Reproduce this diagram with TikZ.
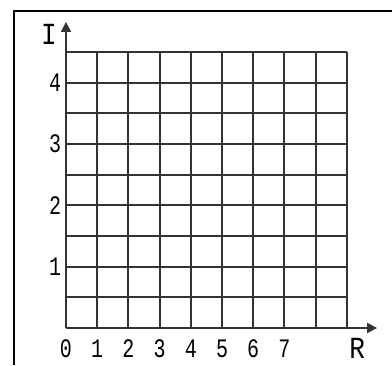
\documentclass[tikz,border=0pt]{standalone}
\usepackage{fontspec}
\setmainfont{Liberation Mono}
\usetikzlibrary{arrows.meta}

\begin{document}
\begin{tikzpicture}[
    x=23.4pt, y=23.0pt,
    cellgrid/.style={draw=black!80, line width=1.4pt},
    axis/.style={-{Triangle[length=7.5pt,width=7.5pt]}, line width=1.4pt, draw=black!80},
    frameline/.style={line width=2.2pt},
    num/.style={font=\fontsize{20}{20}\selectfont, inner sep=0pt, xscale=0.75},
    axlbl/.style={font=\fontsize{23}{23}\selectfont, inner sep=0pt, xscale=0.85}
]
\useasboundingbox (-49.5pt,-27.75pt) rectangle (244.5pt,246pt);

% frame of the box
\coordinate (framebl) at (-39pt,-27.75pt);
\coordinate (frametr) at (244.5pt,237.75pt);
\draw[frameline] (framebl) |- (frametr);

% cells
\draw[cellgrid, step=1] (0,0) grid (9,9);

% axes
\coordinate (origin) at (0,0);
\coordinate (Itip) at (0,9.98);
\coordinate (Rtip) at (9.97,0);
\draw[axis] (origin) -- (Itip);
\draw[axis] (origin) -- (Rtip);
\node[axlbl] (Ilbl) at (-0.55,9.56) {I};
\node[axlbl] (Rlbl) at (9.33,-0.68) {R};

% numbers
\foreach \k in {0,...,7}
    \node[num] (xnum\k) at (\k,-0.68) {\k};
\foreach \k in {1,...,4}
    \node[num] (ynum\k) at (-0.35,2*\k) {\k};
\end{tikzpicture}
\end{document}
